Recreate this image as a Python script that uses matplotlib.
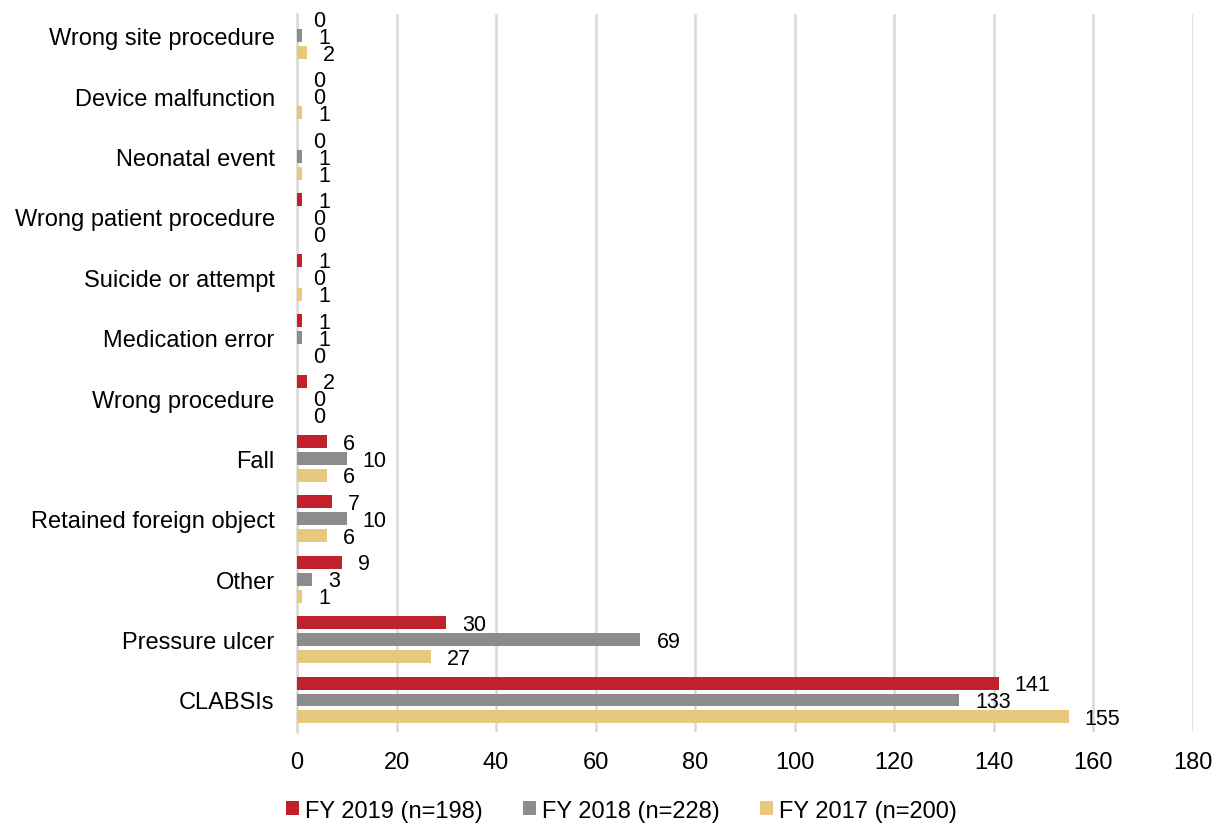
import matplotlib
matplotlib.use("Agg")
import matplotlib.pyplot as plt
import numpy as np

plt.rcParams['font.family'] = ['Liberation Sans', 'DejaVu Sans']

categories = ["CLABSIs", "Pressure ulcer", "Other", "Retained foreign object", "Fall",
              "Wrong procedure", "Medication error", "Suicide or attempt",
              "Wrong patient procedure", "Neonatal event", "Device malfunction",
              "Wrong site procedure"]
fy2019 = [141, 30, 9, 7, 6, 2, 1, 1, 1, 0, 0, 0]
fy2018 = [133, 69, 3, 10, 10, 0, 1, 0, 0, 1, 0, 1]
fy2017 = [155, 27, 1, 6, 6, 0, 0, 1, 0, 1, 1, 2]
series_names = ["FY 2019 (n=198)", "FY 2018 (n=228)", "FY 2017 (n=200)"]
colors = ["#C0212A", "#8C8C8C", "#E8C87C"]

fig = plt.figure(figsize=(12.23, 8.29), dpi=100)
ax = fig.add_axes([0.2428, 0.1158, 0.7327, 0.8662])

y = np.arange(len(categories))
step = 0.28
height = 0.215
offsets = [step, 0, -step]
for vals, off, col, name in zip([fy2019, fy2018, fy2017], offsets, colors, series_names):
    ax.barh(y + off, vals, height=height, color=col, label=name, zorder=3)
    for v, yy in zip(vals, y + off):
        ax.annotate(str(v), xy=(v, yy), xytext=(11.5, -1.2), textcoords="offset points",
                    va="center", ha="left", fontsize=15.5, color="#000000", zorder=4)

ax.set_xlim(0, 180)
ax.set_xticks(np.arange(0, 181, 20))
ax.set_ylim(-0.53, 11.36)
ax.set_yticks(y)
ax.set_yticklabels(categories)
ax.tick_params(axis="both", length=0, labelsize=17, colors="#000000")
ax.tick_params(axis="y", pad=16)
ax.tick_params(axis="x", pad=14)
ax.grid(axis="x", color="#D9D9D9", linewidth=1.8, zorder=0)
for s in ["top", "right", "bottom"]:
    ax.spines[s].set_visible(False)
ax.spines["left"].set_color("#D9D9D9")
ax.spines["left"].set_linewidth(1.8)

handles, labels = ax.get_legend_handles_labels()
fig.legend(handles, labels, loc="center", bbox_to_anchor=(0.508, 0.021), ncol=3,
           frameon=False, fontsize=17, handlelength=0.55, handleheight=0.55,
           handletextpad=0.25, columnspacing=1.7, borderpad=0)

fig.savefig("out.png", dpi=100)
